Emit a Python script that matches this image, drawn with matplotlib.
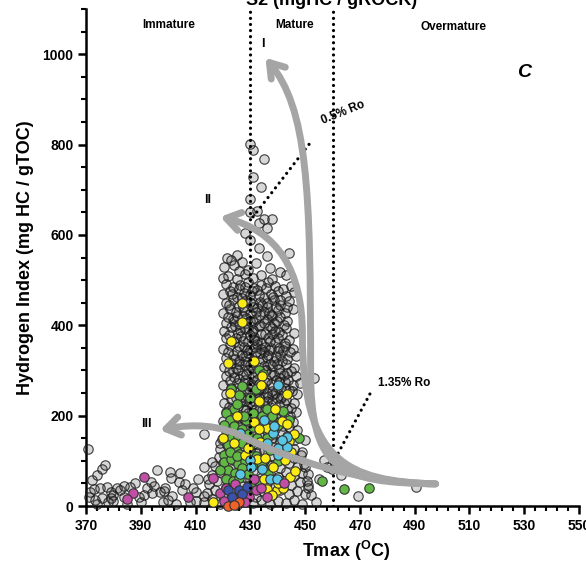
import matplotlib
matplotlib.use("Agg")
import matplotlib.pyplot as plt
from matplotlib.patches import FancyArrowPatch
from matplotlib.path import Path
from matplotlib.ticker import FixedLocator, MultipleLocator

plt.rcParams['font.family'] = ['Liberation Sans', 'DejaVu Sans']
plt.rcParams['mathtext.fontset'] = 'custom'
plt.rcParams['mathtext.bf'] = 'Liberation Sans:bold'
plt.rcParams['mathtext.rm'] = 'Liberation Sans'

# ---- data (Tmax [oC], HI [mg HC / g TOC]) ----
grey_upper = [(429.7, 801), (431, 788), (435, 769), (430.9, 729), (434, 707), (430, 680),
              (432.4, 652), (430, 650), (438, 636), (434.8, 636), (436, 616), (433, 627),
              (428, 604), (430, 589), (433, 571), (436, 554), (444, 561), (427, 541),
              (432, 538), (421.5, 548), (425, 556), (423, 545), (441, 517), (420.5, 528),
              (424, 534), (429, 522), (437, 527), (426, 520)]

grey_cluster = [
    (422, 508), (425, 502), (428, 514), (431, 505), (434, 511), (438, 503), (443, 512), (420, 505),
    (421, 492), (423.5, 485), (426.3, 489), (429, 496), (431.5, 482), (434, 490), (436.5, 495),
    (439, 486), (442, 481), (445, 488),
    (420, 470), (422.5, 476), (425, 463), (427.5, 472), (430, 466), (432.5, 478), (435, 461),
    (437.5, 470), (440, 476), (443, 465), (446, 473),
    (421, 450), (423.5, 458), (426, 443), (428.5, 455), (431, 447), (433.5, 452), (436, 441),
    (438.5, 457), (441, 446), (444, 453),
    (420, 428), (422.5, 436), (425, 421), (427.5, 432), (430, 425), (432.5, 438), (435, 430),
    (437.5, 423), (440, 434), (442.5, 427), (445.5, 436),
    (421, 405), (423.5, 414), (426, 402), (428.5, 417), (431, 408), (433.5, 400), (436, 413),
    (438.5, 405), (441, 418), (443.5, 409),
    (420.5, 388), (423, 396), (425.5, 383), (428, 392), (430.5, 385), (433, 398), (435.5, 381),
    (438, 393), (440.5, 386), (443, 395), (446, 384),
    (421, 372), (424, 362), (426.5, 377), (429, 366), (431.5, 374), (434, 360), (436.5, 371),
    (439, 364), (441.5, 378), (444, 368),
    (420, 348), (422.5, 356), (425, 342), (427.5, 352), (430, 345), (432.5, 358), (435, 341),
    (437.5, 350), (440, 344), (442.5, 355), (445.5, 347),
    (421, 327), (423.5, 335), (426, 322), (428.5, 331), (431, 324), (433.5, 338), (436, 329),
    (438.5, 321), (441, 334), (443.5, 326), (446.5, 333),
    (420.5, 308), (423, 316), (425.5, 302), (428, 312), (430.5, 305), (433, 318), (435.5, 300),
    (438, 310), (440.5, 303), (443, 314), (446, 306),
    (421, 287), (423.5, 296), (426, 282), (428.5, 292), (431, 285), (433.5, 298), (436, 280),
    (438.5, 290), (441, 284), (443.5, 295), (446.5, 288),
    (420, 268), (422.5, 276), (425, 262), (427.5, 272), (430, 265), (432.5, 278), (435, 261),
    (437.5, 270), (440, 264), (442.5, 275), (445.5, 267), (448, 272),
    (421, 247), (424, 255), (426.5, 242), (429, 252), (431.5, 245), (434, 258), (436.5, 241),
    (439, 250), (441.5, 244), (444, 256), (447, 248),
    (420.5, 228), (423, 236), (425.5, 222), (428, 232), (430.5, 225), (433, 238), (435.5, 221),
    (438, 230), (440.5, 224), (443, 235), (446, 227),
    (421, 207), (423.5, 216), (426, 202), (428.5, 212), (431, 205), (433.5, 218), (436, 201),
    (438.5, 210), (441, 204), (443.5, 215), (446.5, 208),
    (420, 188), (422.5, 196), (425, 182), (427.5, 192), (430, 185), (432.5, 198), (435, 181),
    (437.5, 190), (440, 184), (442.5, 195), (445.5, 187),
    (421, 167), (424, 175), (426.5, 162), (429, 172), (431.5, 165), (434, 178), (436.5, 161),
    (439, 170), (441.5, 164), (444, 176), (447, 168),
    (419.5, 148), (422, 156), (425, 142), (428, 152), (430.5, 145), (433, 158), (435.5, 141),
    (438, 150), (441, 144), (443.5, 155), (446, 147),
    (419, 127), (421.5, 135), (424, 122), (427, 132), (430, 125), (432.5, 138), (435, 121),
    (438, 130), (440.5, 124), (443, 135), (446, 127),
    (418.5, 108), (421, 116), (424, 102), (427, 112), (429.5, 105), (432, 118), (435, 101),
    (437.5, 110), (440.5, 104), (443, 115), (446, 107), (448.5, 112),
    (417, 88), (420, 96), (423, 82), (426, 92), (429, 85), (432, 98), (435, 81), (438, 90),
    (441, 84), (444, 95), (447, 87), (449.5, 93),
    (416, 68), (419, 76), (422, 62), (425, 72), (428, 65), (431, 78), (434, 61), (437, 70),
    (440, 64), (443, 75), (446, 67), (449, 72),
    (415, 48), (418, 56), (421, 42), (424, 52), (427, 45), (430, 58), (433, 41), (436, 50),
    (439, 44), (442, 55), (445, 47), (448, 53), (451, 46),
    (414, 28), (417, 36), (420, 22), (423, 32), (426, 25), (429, 38), (432, 21), (435, 30),
    (438, 24), (441, 35), (444, 27), (447, 33), (450, 26),
    (413, 8), (416, 15), (419, 5), (422, 12), (425, 3), (428, 16), (431, 6), (434, 13),
    (437, 4), (440, 11), (443, 7), (446, 14), (449, 5),
]

grey_core = [
    (427, 460), (432, 430), (429, 395), (434, 380), (426, 355), (432, 340), (437, 315),
    (429, 300), (424, 285), (433, 270), (438, 255), (428, 240), (432, 215), (437, 200),
    (426, 195), (429, 178), (434, 160), (439, 140), (428, 130), (433, 122), (436, 95),
    (431, 440), (438, 420), (424, 410), (431, 390), (437, 365), (428, 322), (441, 295),
    (423.2, 470), (425.8, 480), (428.2, 485), (433.2, 468), (435.8, 482), (438.2, 462),
    (440.8, 455), (422.2, 445), (424.8, 430), (427.2, 440), (429.8, 452), (434.2, 445),
    (436.8, 428), (439.2, 440), (443.2, 440), (421.8, 418), (424.3, 398), (427.2, 420),
    (429.8, 410), (432.2, 415), (434.8, 405), (437.2, 398), (439.8, 410), (442.3, 400),
    (422.2, 378), (424.8, 372), (427.3, 365), (429.8, 378), (432.6, 365), (435.3, 352),
    (437.8, 380), (440.2, 372), (442.8, 360), (421.8, 340), (424.3, 325), (426.8, 335),
    (429.2, 338), (431.8, 352), (434.2, 325), (436.8, 345), (439.2, 330), (441.8, 345),
    (444.3, 340), (422.3, 298), (424.8, 305), (427.3, 290), (429.8, 312), (432.3, 295),
    (434.8, 310), (437.3, 292), (439.8, 315), (442.3, 290), (444.8, 298), (422.8, 262),
    (425.3, 272), (427.8, 255), (430.3, 270), (432.8, 255), (435.3, 275), (437.8, 245),
    (440.3, 275), (442.8, 262), (445.3, 255), (422.3, 220), (424.8, 240), (427.3, 215),
    (429.8, 230), (432.3, 240), (434.8, 228), (437.3, 220), (439.8, 238), (442.3, 228),
    (444.8, 218), (421.8, 180), (424.3, 195), (426.8, 185), (429.3, 198), (431.8, 190),
    (434.3, 200), (436.8, 175), (439.3, 195), (441.8, 178), (444.3, 200),
    (430.7, 475), (436.2, 450), (433.6, 422), (428.4, 405), (438.9, 388), (426.1, 390),
    (431.3, 368), (440.6, 350), (433.9, 348), (428.7, 345), (436.4, 335), (430.8, 318),
    (425.7, 315), (441.7, 322), (435.6, 302), (431.9, 280), (427.9, 278), (439.4, 280),
    (443.6, 280), (433.7, 262), (429.6, 258), (436.2, 250), (441.1, 258), (426.4, 230),
    (431.4, 232), (436.1, 232), (441.3, 240), (434.2, 212), (429.2, 205), (439.6, 205),
]

grey_left = [(370.9, 126), (372.1, 58), (374, 69), (375.8, 83), (377, 91), (371.5, 32), (373, 38),
             (375.2, 39), (377.7, 43), (379, 30), (381.3, 39), (382.5, 35), (380, 24), (383.7, 21),
             (373.3, 13), (371, 20), (376, 17), (378, 8), (388, 50), (393.6, 54), (396, 80),
             (392.2, 39), (394, 29), (397.1, 32), (398.5, 33), (400.8, 76), (403.8, 54), (404.4, 72),
             (401, 62), (400, 13), (401.5, 22), (409, 40), (410, 30), (411, 59), (412.9, 87),
             (416, 98), (419, 139), (413, 160), (389.5, 19), (386, 42), (384, 44), (395, 45),
             (399, 40), (405, 35), (408, 10), (403, 5), (398, 8), (390, 8), (385, 5), (380, 12),
             (374, 5), (410, 12), (413, 22), (414.5, 60), (406, 48), (391, 25), (379, 18)]

grey_right = [(453.2, 283), (450.1, 146), (457, 102), (458, 87), (459.9, 83), (463.2, 69),
              (469.2, 22), (454.1, 10), (490.3, 43), (450, 87), (451, 70), (450.5, 55),
              (451, 40), (452, 25), (449, 120), (455, 60), (461, 95)]

green_pts = [(423.9, 214), (434.3, 199), (420.2, 113), (433, 301), (434.5, 293), (447.7, 150),
             (456.2, 56), (464.1, 37), (473.3, 39), (421, 205), (422.5, 190), (424, 178),
             (421.5, 165), (423, 150), (425.5, 155), (427, 170), (422, 135), (424.5, 128),
             (427, 140), (420.5, 98), (423, 105), (425.5, 92), (428, 100), (422, 80), (424.5, 72),
             (427, 85), (421, 60), (423.5, 55), (426, 62), (429, 70), (431, 90), (432, 110),
             (430, 135), (432.5, 150), (428.5, 190), (431, 205), (433, 230), (430, 240),
             (426, 245), (423, 258), (427, 265), (436, 215), (438, 200), (440, 180), (436, 150),
             (437, 125), (434, 95), (436.5, 70), (433, 55), (430, 45), (440, 100), (441, 130),
             (444, 190), (442, 210), (419, 80), (426, 115), (429, 160), (425, 225), (431, 175),
             (420.5, 180), (422.5, 120), (427.5, 200), (425, 110), (429, 120), (432, 260)]

yellow_pts = [(427, 408), (423, 365), (422, 316), (431.2, 320), (434.3, 288), (433.9, 268),
              (422.7, 251), (443.2, 247), (433, 233), (431.2, 187), (441.6, 189), (443.5, 182),
              (436.1, 172), (433, 170), (446, 159), (424.2, 140), (433.5, 142), (428, 113),
              (432.4, 104), (435.2, 107), (438.2, 86), (442.8, 102), (444.3, 65), (446.2, 78),
              (436.1, 37), (439.8, 35), (438, 24), (416.4, 10), (441, 122), (427, 450),
              (439, 215), (425, 200), (429, 128), (444, 145), (420, 150), (435, 60), (442, 40),
              (426, 30), (445, 120), (440, 50)]

cyan_pts = [(440.1, 268), (426.1, 161), (438.2, 162), (436.1, 140), (443.2, 153), (440.1, 128),
            (443.2, 131), (440.1, 113), (430, 102), (434.3, 81), (426.1, 70), (437.3, 59),
            (439.8, 59), (430.4, 86), (441.5, 146), (435, 190), (438.5, 178)]

magenta_pts = [(391, 65), (387.3, 28), (385, 15), (407.2, 19), (416.4, 61), (419, 28),
               (431.2, 60), (442.2, 52), (426.7, 19), (429.4, 21), (432.2, 35), (433.9, 39),
               (421, 40), (424.5, 48), (436, 20), (428, 8), (420.5, 12)]

blue_pts = [(422, 35), (425.7, 35), (428.8, 43), (423.3, 21), (427, 26)]

orange_pts = [(422, 0), (426, 9), (424, 3)]

grey_all = grey_upper + grey_cluster + grey_core + grey_left + grey_right
colour_series = [
    (green_pts, '#62b845'),
    (yellow_pts, '#fbeb14'),
    (cyan_pts, '#58c6e4'),
    (magenta_pts, '#c24fa6'),
    (blue_pts, '#3b52ad'),
    (orange_pts, '#f0622a'),
]

# grey evolution arrows for kerogen types I, II, III (bezier nodes, data units)
arrow_I = [(497.6, 49), (462, 52), (452, 80), (452, 300),
           (452, 700), (451, 880), (435.5, 992)]
arrow_II = [(497.6, 49), (465, 55), (449, 100), (449, 380),
            (449, 520), (440, 610), (419, 640)]
arrow_III = [(497.6, 49), (470, 52), (445, 100), (425, 160),
             (415, 185), (405, 178), (397, 168)]

ro_05 = [(431, 640), (452, 805)]
ro_135 = [(461, 105), (474, 252)]

xticks = list(range(370, 551, 20))
yticks = [0, 200, 400, 600, 800, 1000]

fig = plt.figure(figsize=(5.86, 5.63), dpi=100)
ax = fig.add_axes([0.1468, 0.1012, 0.8413, 0.8828])

# grey samples: translucent fill so that piled-up points turn darker
ax.scatter([p[0] for p in grey_all], [p[1] for p in grey_all], s=46,
           facecolors=(0.22, 0.22, 0.22, 0.2), edgecolors=(0.1, 0.1, 0.1, 0.8),
           linewidths=0.85, zorder=3, clip_on=False)
for pts, col in colour_series:
    ax.scatter([p[0] for p in pts], [p[1] for p in pts], s=46, c=col,
               edgecolors='#333333', linewidths=0.8, zorder=3.5, clip_on=False)

dot = dict(color='black', lw=2.3, linestyle=(0, (0.01, 1.9)), dash_capstyle='round', zorder=4)
ax.plot([430, 430], [0, 1100], **dot)
ax.plot([460, 460], [0, 1100], **dot)
ax.plot([p[0] for p in ro_05], [p[1] for p in ro_05], **dot)
ax.plot([p[0] for p in ro_135], [p[1] for p in ro_135], **dot)

codes = [Path.MOVETO] + [Path.CURVE4] * 6
for pts in (arrow_I, arrow_II, arrow_III):
    arr = FancyArrowPatch(path=Path(pts, codes), arrowstyle='->,head_length=0.45,head_width=0.3',
                          mutation_scale=22, color='#a5a5a5', lw=5, capstyle='round',
                          joinstyle='round', zorder=5)
    ax.add_patch(arr)

ax.set_xlim(370, 550)
ax.set_ylim(0, 1100)
ax.spines['top'].set_visible(False)
ax.spines['right'].set_visible(False)
for s in ('left', 'bottom'):
    ax.spines[s].set_linewidth(1.8)
ax.set_xticks(xticks)
ax.xaxis.set_minor_locator(FixedLocator(list(range(370, 551, 4))))
ax.set_yticks(yticks)
ax.yaxis.set_minor_locator(MultipleLocator(50))
ax.tick_params(which='major', length=6, width=1.8, labelsize=10, pad=3)
ax.tick_params(which='minor', length=3.5, width=1.5)
for lab in ax.get_xticklabels() + ax.get_yticklabels():
    lab.set_fontweight('bold')

ax.set_xlabel(r'Tmax ($\mathbf{^{O}}$C)', fontsize=13, fontweight='bold')
ax.xaxis.set_label_coords(0.527, -0.066)
ax.set_ylabel('Hydrogen Index (mg HC / gTOC)', fontsize=13, fontweight='bold')
ax.yaxis.set_label_coords(-0.105, 0.5)

fig.text(0.5666, 1 - 5 / 563, 'S2 (mgHC / gROCK)', fontsize=13, fontweight='bold',
         ha='center', va='baseline')

ax.text(400, 1065, 'Immature', fontsize=8.5, fontweight='bold', ha='center', va='center')
ax.text(446, 1065, 'Mature', fontsize=8.5, fontweight='bold', ha='center', va='center')
ax.text(504, 1061, 'Overmature', fontsize=8.5, fontweight='bold', ha='center', va='center')
ax.text(530, 959, 'C', fontsize=14, fontweight='bold', style='italic', ha='center', va='center')
ax.text(434.7, 1023, 'I', fontsize=9, fontweight='bold', ha='center', va='center')
ax.text(414.3, 678, 'II', fontsize=9, fontweight='bold', ha='center', va='center')
ax.text(392, 182, 'III', fontsize=9, fontweight='bold', ha='center', va='center')
ax.text(464, 870, '0.5% Ro', fontsize=8.5, fontweight='bold', ha='center', va='center',
        rotation=22)
ax.text(486.3, 272, '1.35% Ro', fontsize=8.5, fontweight='bold', ha='center', va='center')

fig.savefig('out.png', dpi=100)
